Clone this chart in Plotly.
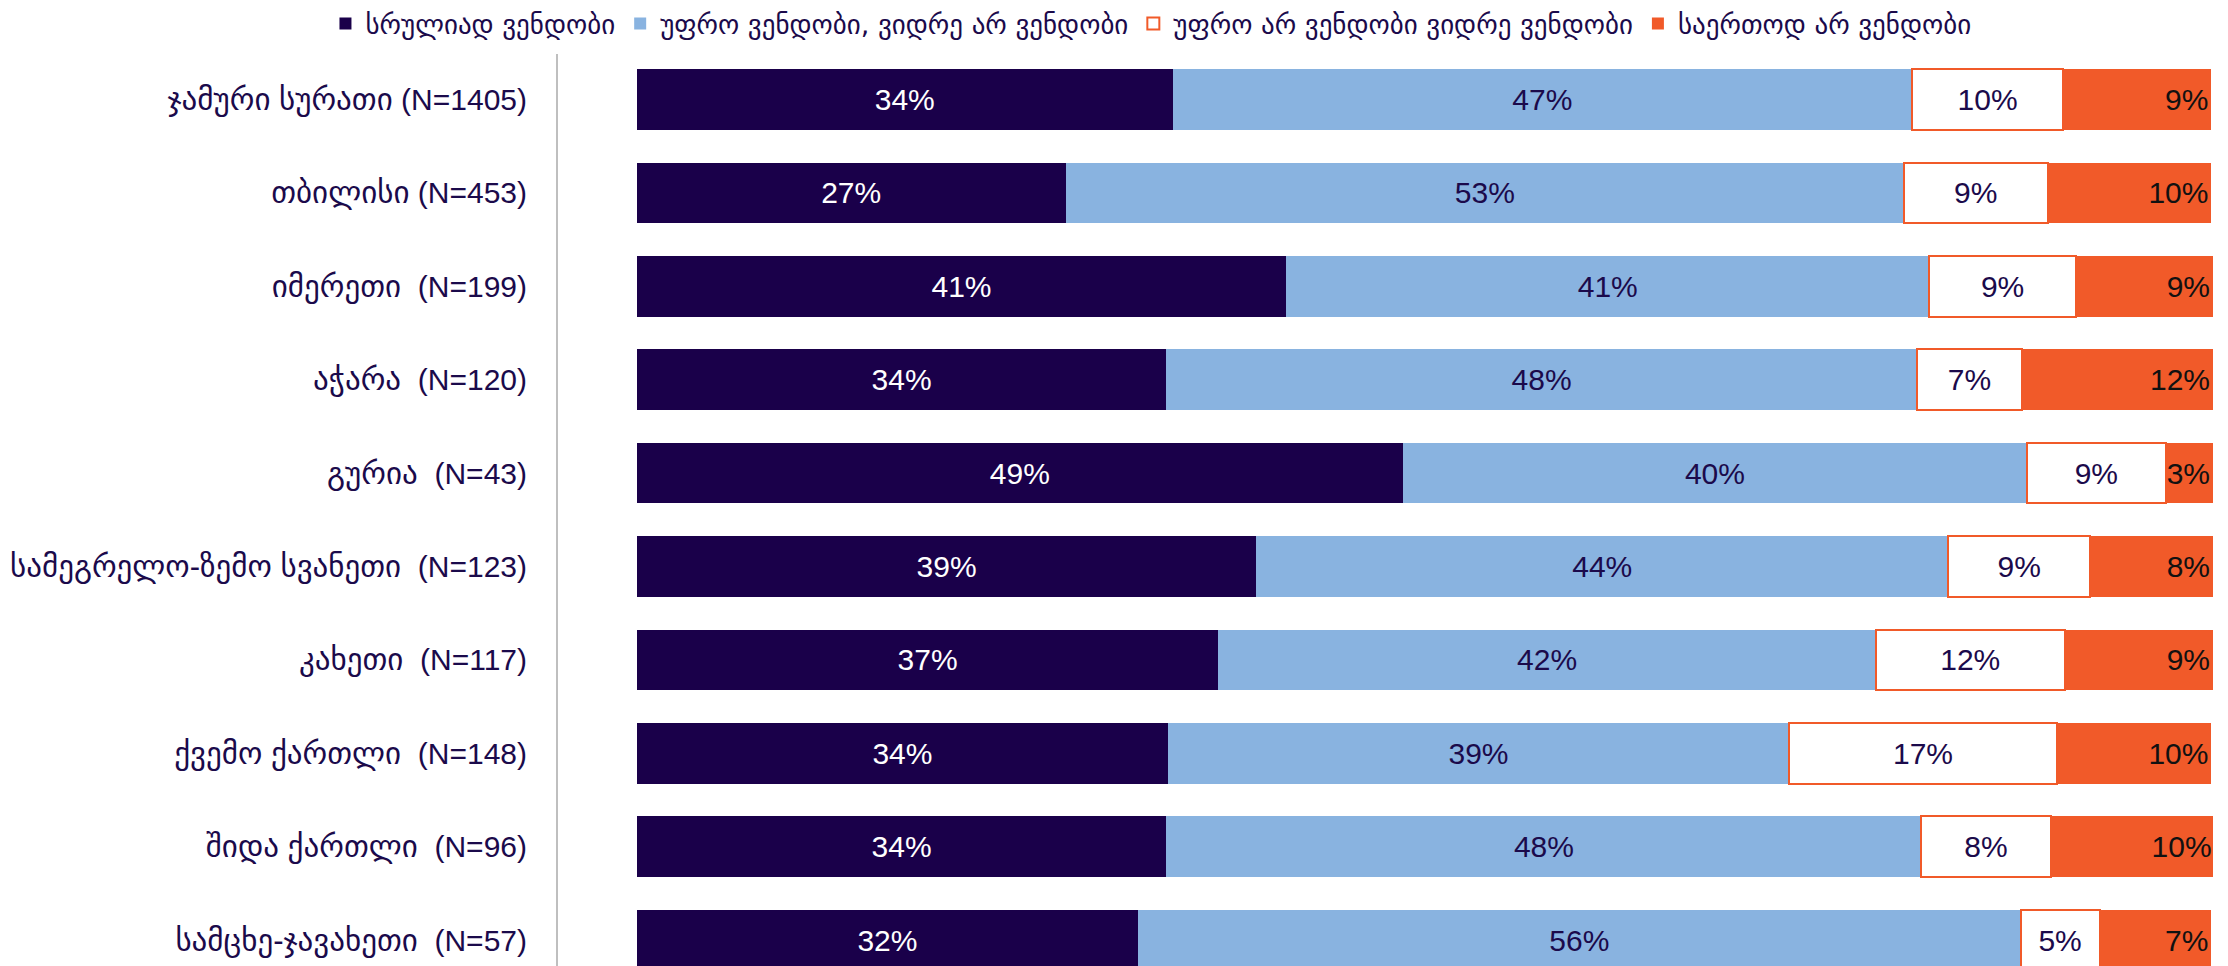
import plotly.graph_objects as go

region_names = [
    "ჯამური სურათი",
    "თბილისი",
    "იმერეთი",
    "აჭარა",
    "გურია",
    "სამეგრელო-ზემო სვანეთი",
    "კახეთი",
    "ქვემო ქართლი",
    "შიდა ქართლი",
    "სამცხე-ჯავახეთი",
]
sample_sizes = ["1405", "453", "199", "120", "43", "123", "117", "148", "96", "57"]

series_names = [
    "სრულიად ვენდობი",
    "უფრო ვენდობი, ვიდრე არ ვენდობი",
    "უფრო არ ვენდობი ვიდრე ვენდობი",
    "საერთოდ არ ვენდობი",
]

fully_trust = [34.0, 27.2, 41.2, 33.6, 48.6, 39.3, 36.9, 33.7, 33.6, 31.8]
rather_trust = [46.9, 53.2, 40.8, 47.6, 39.6, 43.9, 41.7, 39.4, 47.9, 56.0]
rather_distrust = [9.6, 9.1, 9.3, 6.7, 8.8, 9.0, 12.0, 17.0, 8.2, 5.0]
fully_distrust = [9.4, 10.4, 8.7, 12.1, 3.0, 7.8, 9.4, 9.8, 10.4, 7.1]

categories = [f"{n} (N={s})" for n, s in zip(region_names, sample_sizes)]
tick_text = [
    f"<span style='font-size:31px'>{n}</span>{' ' if i < 2 else ' &#160;'}(N={s})"
    for i, (n, s) in enumerate(zip(region_names, sample_sizes))
]

DARK = "#1A004A"
LIGHT = "#89B3E0"
ORANGE = "#F15A29"
NAVY_TEXT = "#1B0A4B"

# page has an 8px body margin: figure sized to fit the viewport exactly
W, H = 2220, 958
ML, MR, MT, MB = 550, 15, 46, 0

fig = go.Figure()

specs = [
    (fully_trust, DARK, None, "white", "middle"),
    (rather_trust, LIGHT, None, NAVY_TEXT, "middle"),
    (rather_distrust, "white", ORANGE, NAVY_TEXT, "middle"),
    (fully_distrust, ORANGE, None, "#111111", "end"),
]

for name, (vals, color, line, tcolor, anchor) in zip(series_names, specs):
    fig.add_trace(go.Bar(
        y=categories,
        x=vals,
        name=name,
        orientation="h",
        width=0.65,
        marker=dict(color=color,
                    line=dict(color=line if line else color, width=2 if line else 0)),
        texttemplate="%{x:.0f}%",
        textposition="inside",
        insidetextanchor=anchor,
        textangle=0,
        constraintext="none",
        insidetextfont=dict(family="Liberation Sans, Arial, sans-serif", size=30, color=tcolor),
        hoverinfo="skip",
    ))

fig.update_layout(
    barmode="stack",
    width=W,
    height=H,
    margin=dict(l=ML, r=MR, t=MT, b=MB, pad=0, autoexpand=False),
    paper_bgcolor="white",
    plot_bgcolor="white",
    showlegend=True,
    legend=dict(
        orientation="h",
        xref="container",
        yref="container",
        x=0.143,
        xanchor="left",
        y=1 - 16 / H,
        yanchor="middle",
        itemwidth=30,
        font=dict(family="DejaVu Sans, Liberation Sans, sans-serif", size=27, color=NAVY_TEXT),
        traceorder="normal",
        itemclick=False,
        bgcolor="rgba(0,0,0,0)",
    ),
    xaxis=dict(
        range=[-5.0, 100.0],
        showgrid=False,
        zeroline=False,
        showticklabels=False,
        showline=False,
        fixedrange=True,
    ),
    yaxis=dict(
        categoryorder="array",
        categoryarray=categories,
        tickmode="array",
        tickvals=categories,
        ticktext=tick_text,
        range=[9.277, -0.487],
        autorange=False,
        showgrid=False,
        zeroline=False,
        showline=True,
        linecolor="#BFBFBF",
        linewidth=2,
        ticks="",
        ticklabelstandoff=23,
        tickfont=dict(family="Liberation Sans, DejaVu Sans, sans-serif", size=30, color=NAVY_TEXT),
        fixedrange=True,
    ),
)

fig.write_html("out.html")
